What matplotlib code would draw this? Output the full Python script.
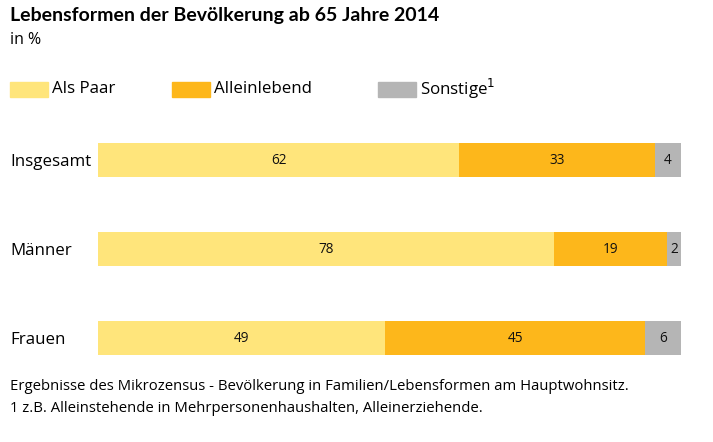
import matplotlib.pyplot as plt
from matplotlib.patches import Rectangle

plt.rcParams['font.family'] = ['Open Sans', 'DejaVu Sans']

categories = ['Insgesamt', 'Männer', 'Frauen']
series_names = ['Als Paar', 'Alleinlebend', 'Sonstige']
# bar widths (shares in %)
als_paar = [62.0, 78.2, 49.3]
alleinlebend = [33.5, 19.4, 44.5]
sonstige = [4.5, 2.4, 6.2]
# printed (rounded) labels
als_paar_lbl = [62, 78, 49]
alleinlebend_lbl = [33, 19, 45]
sonstige_lbl = [4, 2, 6]

colors = ['#FFE57B', '#FDB71B', '#B5B5B5']

W, H = 713, 442
fig = plt.figure(figsize=(W / 100, H / 100), dpi=100)

# axes: bars from x=98 to 681 px, rows 89 px apart
ax = fig.add_axes([98 / W, 1 - 382.5 / H, (681 - 98) / W, 267 / H])
ypos = list(range(len(categories)))

left = [0] * len(categories)
for vals, lbls, col in zip([als_paar, alleinlebend, sonstige],
                           [als_paar_lbl, alleinlebend_lbl, sonstige_lbl], colors):
    bars = ax.barh(ypos, vals, left=left, height=0.39, color=col, edgecolor='none')
    ax.bar_label(bars, labels=[str(v) for v in lbls], label_type='center',
                 fontsize=9.8, color='#111111')
    left = [a + b for a, b in zip(left, vals)]

ax.set_xlim(0, 100)
ax.set_ylim(2.5, -0.5)
ax.set_xticks([])
ax.set_yticks(ypos, labels=categories)
ax.tick_params(axis='y', length=0, pad=88 * 0.72, labelsize=12.2)
for t in ax.get_yticklabels():
    t.set_ha('left')
for s in ax.spines.values():
    s.set_visible(False)

# title and subtitle
fig.text(10 / W, 1 - 16 / H, 'Lebensformen der Bevölkerung ab 65 Jahre 2014',
         fontsize=14, fontweight='bold', va='center', ha='left', family='Lato')
fig.text(10 / W, 1 - 40 / H, 'in %', fontsize=11.5, va='center', ha='left')

# legend
legend_x = [10, 172, 378]
legend_txt = ['Als Paar', 'Alleinlebend', 'Sonstige$^{1}$']
for x, txt, col in zip(legend_x, legend_txt, colors):
    fig.patches.append(Rectangle((x / W, 1 - 97 / H), 38 / W, 15 / H,
                                 transform=fig.transFigure, color=col))
    fig.text((x + 42) / W, 1 - 89 / H, txt, fontsize=12.2, va='center', ha='left')

# footnote
fig.text(10 / W, 1 - 387 / H,
         'Ergebnisse des Mikrozensus - Bevölkerung in Familien/Lebensformen am Hauptwohnsitz.',
         fontsize=10.7, va='center', ha='left')
fig.text(10 / W, 1 - 408 / H,
         '1 z.B. Alleinstehende in Mehrpersonenhaushalten, Alleinerziehende.',
         fontsize=10.7, va='center', ha='left')

fig.savefig('out.png', dpi=100)
